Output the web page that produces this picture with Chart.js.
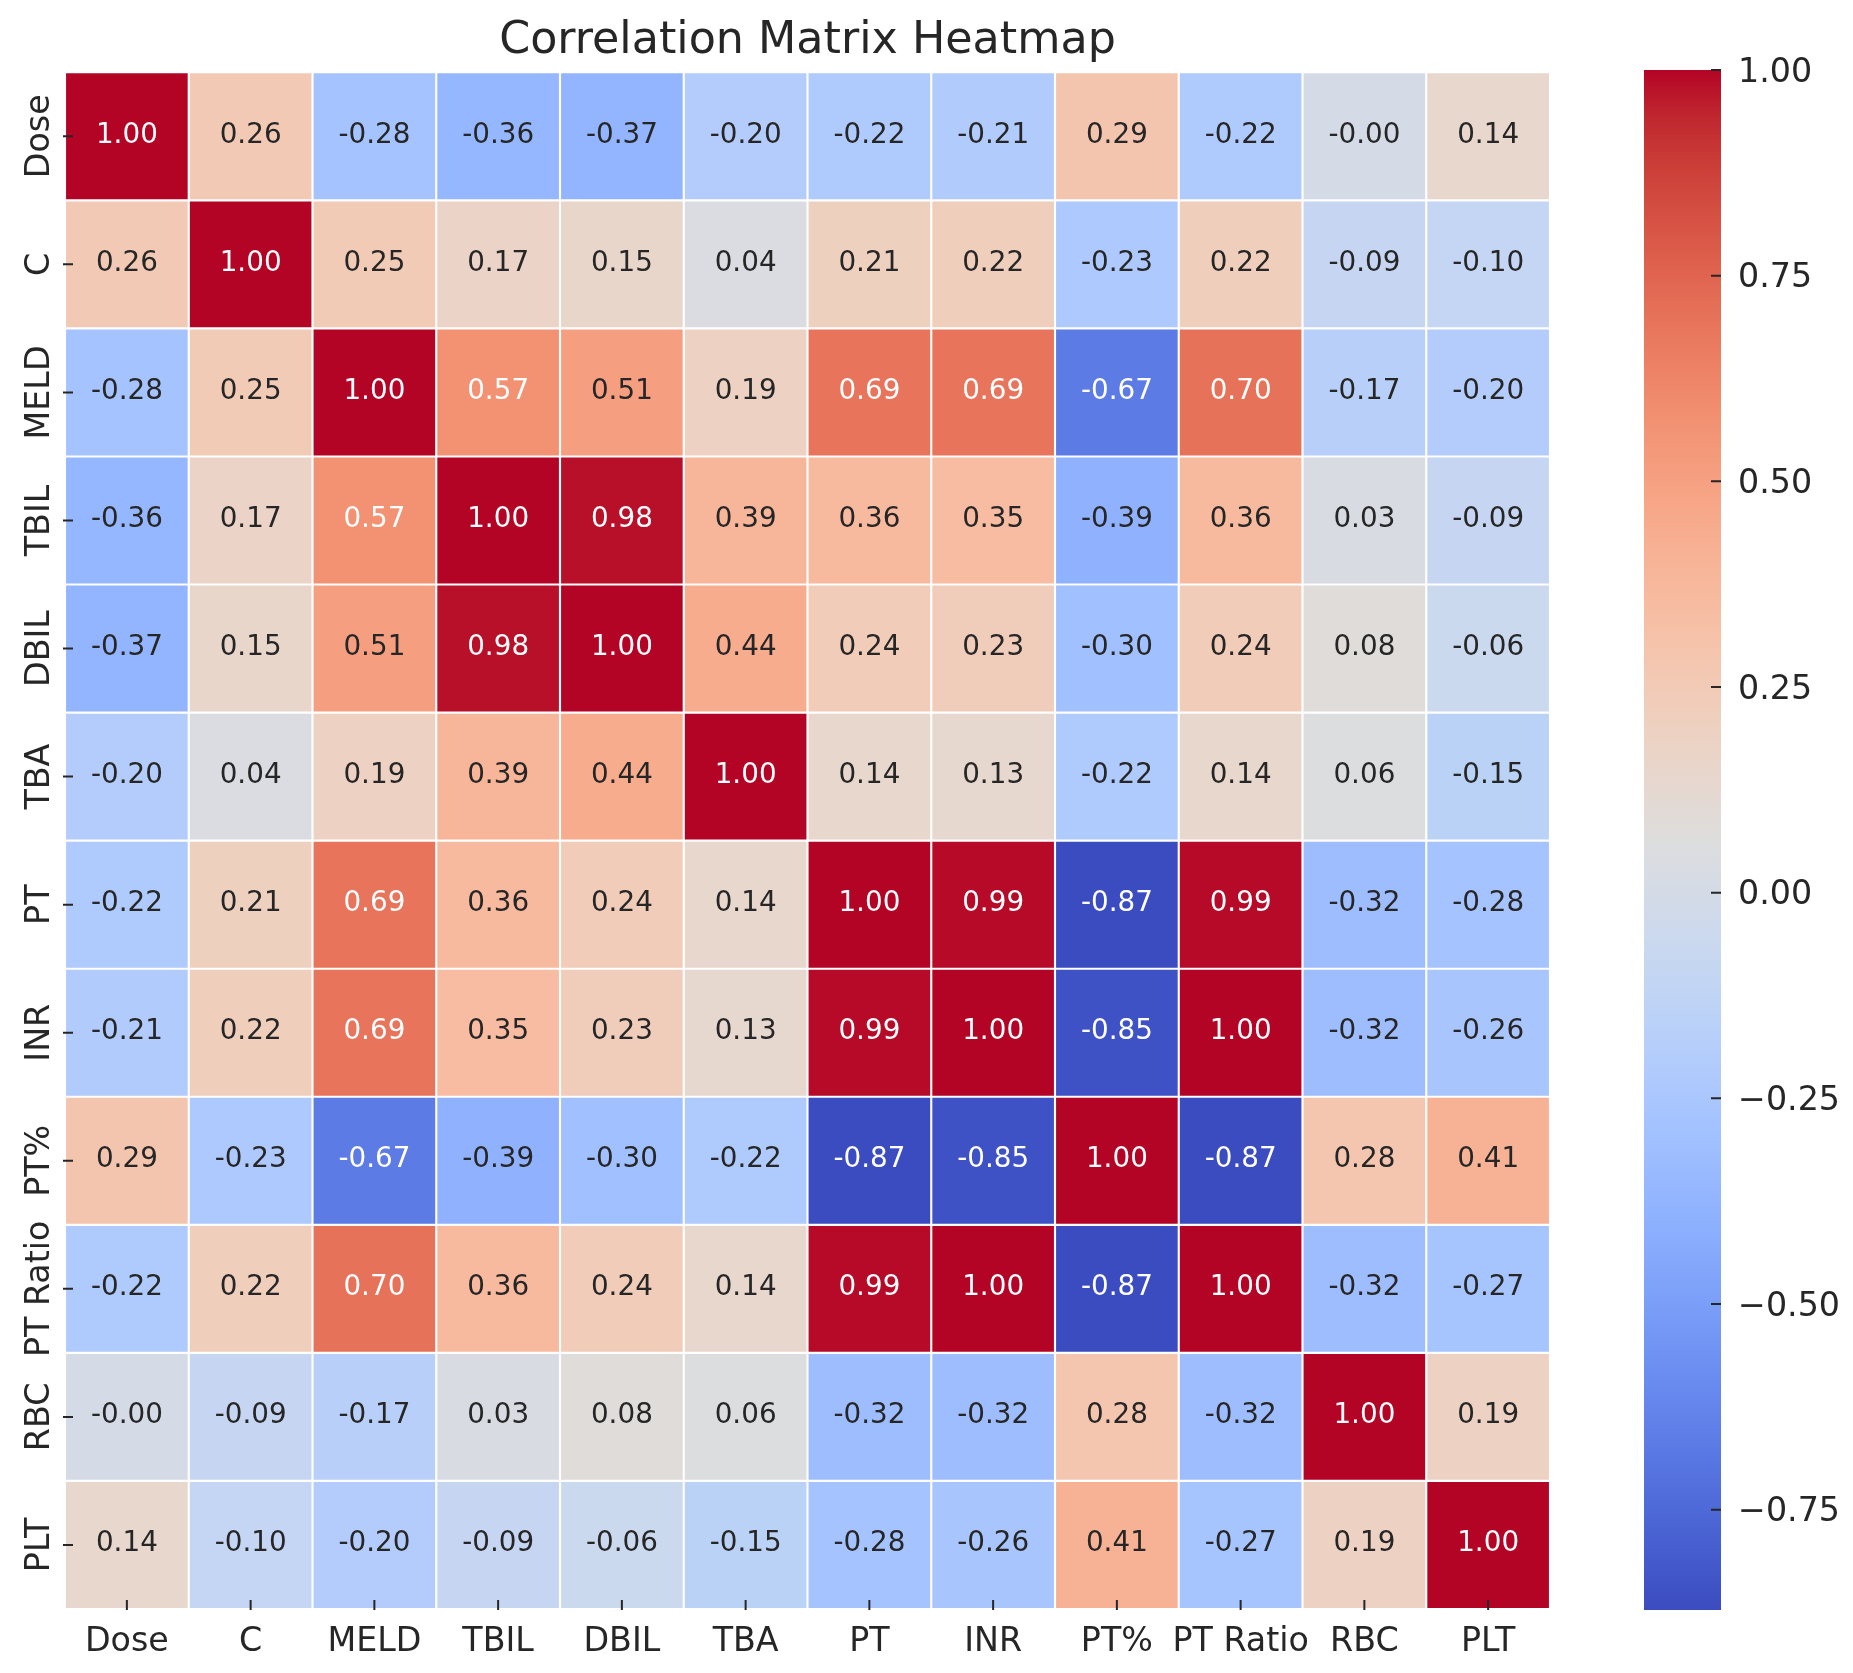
<!DOCTYPE html>
<html>
<head>
<meta charset="utf-8">
<script src="https://cdn.jsdelivr.net/npm/chart.js@4.4.1/dist/chart.umd.min.js"></script>
<style>
  html, body { margin: 0; padding: 0; background: #ffffff; }
  #wrap { position: relative; width: 1853px; height: 1673px; }
  #heatCanvas { position: absolute; left: 0; top: 0; }
  #barCanvas { position: absolute; left: 1600px; top: 0; }
</style>
</head>
<body>
<div id="wrap">
  <canvas id="heatCanvas" width="1600" height="1673"></canvas>
  <canvas id="barCanvas" width="253" height="1673"></canvas>
</div>
<script>
const labels = ["Dose", "C", "MELD", "TBIL", "DBIL", "TBA", "PT", "INR", "PT%", "PT Ratio", "RBC", "PLT"];

const dose    = [1.00, 0.26, -0.28, -0.36, -0.37, -0.20, -0.22, -0.21, 0.29, -0.22, -0.004, 0.14];
const cRow    = [0.26, 1.00, 0.25, 0.17, 0.15, 0.04, 0.21, 0.22, -0.23, 0.22, -0.09, -0.10];
const meld    = [-0.28, 0.25, 1.00, 0.57, 0.51, 0.19, 0.69, 0.69, -0.67, 0.70, -0.17, -0.20];
const tbil    = [-0.36, 0.17, 0.57, 1.00, 0.98, 0.39, 0.36, 0.35, -0.39, 0.36, 0.03, -0.09];
const dbil    = [-0.37, 0.15, 0.51, 0.98, 1.00, 0.44, 0.24, 0.23, -0.30, 0.24, 0.08, -0.06];
const tba     = [-0.20, 0.04, 0.19, 0.39, 0.44, 1.00, 0.14, 0.13, -0.22, 0.14, 0.06, -0.15];
const pt      = [-0.22, 0.21, 0.69, 0.36, 0.24, 0.14, 1.00, 0.99, -0.87, 0.99, -0.32, -0.28];
const inr     = [-0.21, 0.22, 0.69, 0.35, 0.23, 0.13, 0.99, 1.00, -0.85, 1.00, -0.32, -0.26];
const ptPct   = [0.29, -0.23, -0.67, -0.39, -0.30, -0.22, -0.87, -0.85, 1.00, -0.87, 0.28, 0.41];
const ptRatio = [-0.22, 0.22, 0.70, 0.36, 0.24, 0.14, 0.99, 1.00, -0.87, 1.00, -0.32, -0.27];
const rbc     = [-0.004, -0.09, -0.17, 0.03, 0.08, 0.06, -0.32, -0.32, 0.28, -0.32, 1.00, 0.19];
const pltRow  = [0.14, -0.10, -0.20, -0.09, -0.06, -0.15, -0.28, -0.26, 0.41, -0.27, 0.19, 1.00];

const rows = [dose, cRow, meld, tbil, dbil, tba, pt, inr, ptPct, ptRatio, rbc, pltRow];

const colorMin = -0.872;
const colorMax = 1.0;
const barTicks = [-0.75, -0.5, -0.25, 0, 0.25, 0.5, 0.75, 1.0];

const FONT = "DejaVu Sans";
const DARK = "#262626";

// coolwarm, 33 steps
const coolwarm = [
  [59,76,192],[68,90,204],[77,104,215],[87,117,225],[98,130,234],[108,142,241],
  [119,154,247],[130,165,251],[141,176,254],[152,185,255],[163,194,255],[174,201,253],
  [184,208,249],[194,213,244],[204,217,238],[213,219,230],[221,221,221],[229,216,209],
  [236,211,197],[241,204,184],[245,196,172],[247,187,160],[247,177,148],[247,166,135],
  [244,154,123],[241,141,111],[236,127,99],[229,112,88],[222,96,77],[213,80,66],
  [203,62,56],[192,40,47],[180,4,38]
];

function cmap(t) {
  t = Math.min(1, Math.max(0, t));
  const p = t * (coolwarm.length - 1);
  const i = Math.min(coolwarm.length - 2, Math.floor(p));
  const f = p - i;
  const a = coolwarm[i], b = coolwarm[i + 1];
  return [0, 1, 2].map(k => a[k] + (b[k] - a[k]) * f);
}

function colorFor(v) {
  const c = cmap((v - colorMin) / (colorMax - colorMin));
  return "rgb(" + c.map(Math.round).join(",") + ")";
}

function textColorFor(v) {
  const c = cmap((v - colorMin) / (colorMax - colorMin)).map(x => {
    x = x / 255;
    return x <= 0.03928 ? x / 12.92 : Math.pow((x + 0.055) / 1.055, 2.4);
  });
  const lum = 0.2126 * c[0] + 0.7152 * c[1] + 0.0722 * c[2];
  return lum > 0.408 ? DARK : "#ffffff";
}

const cellText = {
  id: "cellText",
  afterDatasetsDraw(chart) {
    const ctx = chart.ctx;
    const area = chart.chartArea;
    const xs = chart.scales.x, ys = chart.scales.y;
    ctx.save();
    ctx.font = "27.8px '" + FONT + "'";
    ctx.textAlign = "center";
    ctx.textBaseline = "middle";
    rows.forEach((vals, r) => {
      const meta = chart.getDatasetMeta(r);
      vals.forEach((v, c) => {
        const el = meta.data[c];
        ctx.fillStyle = textColorFor(v);
        ctx.fillText(v.toFixed(2), el.x, (el.y + el.base) / 2 - 1);
      });
    });

    // tick marks
    ctx.strokeStyle = DARK;
    ctx.lineWidth = 2;
    ctx.beginPath();
    labels.forEach((l, i) => {
      const x = xs.getPixelForValue(i);
      ctx.moveTo(x, area.bottom - 9);
      ctx.lineTo(x, area.bottom + 1);
      const y = ys.getPixelForValue(i + 0.5);
      ctx.moveTo(area.left - 2, y);
      ctx.lineTo(area.left + 8, y);
    });
    ctx.stroke();

    // rotated row labels
    ctx.fillStyle = DARK;
    ctx.font = "33.3px '" + FONT + "'";
    ctx.textBaseline = "alphabetic";
    labels.forEach((l, i) => {
      const y = ys.getPixelForValue(i + 0.5);
      ctx.save();
      ctx.translate(49, y);
      ctx.rotate(-Math.PI / 2);
      ctx.fillText(l, 0, 0);
      ctx.restore();
    });
    ctx.restore();
  }
};

new Chart(document.getElementById("heatCanvas"), {
  type: "bar",
  data: {
    labels: labels,
    datasets: rows.map((vals, r) => ({
      label: labels[r],
      data: vals.map(() => [r, r + 1]),
      backgroundColor: vals.map(colorFor),
      borderColor: "#ffffff",
      borderWidth: 1.4,
      borderSkipped: false,
      grouped: false,
      barPercentage: 1,
      categoryPercentage: 1
    }))
  },
  options: {
    responsive: false,
    animation: false,
    layout: { padding: { left: 65, right: 50, top: 0, bottom: 0 } },
    plugins: {
      legend: { display: false },
      tooltip: { enabled: false },
      title: {
        display: true,
        text: "Correlation Matrix Heatmap",
        color: DARK,
        font: { family: FONT, size: 44.4, weight: "normal" },
        padding: { top: 15, bottom: 4 }
      }
    },
    scales: {
      x: {
        type: "category",
        position: "bottom",
        grid: { display: false },
        border: { display: false },
        afterFit: s => { s.height = 64; },
        ticks: {
          autoSkip: false, maxRotation: 0, minRotation: 0, padding: 5,
          color: DARK, font: { family: FONT, size: 33.3 }
        }
      },
      y: { type: "linear", min: 0, max: 12, reverse: true, display: false }
    }
  },
  plugins: [cellText]
});

const barTickMarks = {
  id: "barTickMarks",
  afterDraw(chart) {
    const ctx = chart.ctx;
    const area = chart.chartArea;
    const ys = chart.scales.y;
    ctx.save();
    ctx.strokeStyle = DARK;
    ctx.lineWidth = 2;
    ctx.beginPath();
    barTicks.forEach(v => {
      const y = ys.getPixelForValue(v);
      ctx.moveTo(area.right - 10, y);
      ctx.lineTo(area.right, y);
    });
    ctx.stroke();
    ctx.restore();
  }
};

new Chart(document.getElementById("barCanvas"), {
  type: "bar",
  data: {
    labels: [""],
    datasets: [{
      data: [[colorMin, colorMax]],
      borderWidth: 0,
      barPercentage: 1,
      categoryPercentage: 1,
      backgroundColor: ctx => {
        const chart = ctx.chart;
        if (!chart.chartArea) return null;
        const ys = chart.scales.y;
        const g = chart.ctx.createLinearGradient(0, ys.getPixelForValue(colorMin), 0, ys.getPixelForValue(colorMax));
        coolwarm.forEach((c, i) => g.addColorStop(i / (coolwarm.length - 1), "rgb(" + c.join(",") + ")"));
        return g;
      }
    }]
  },
  options: {
    responsive: false,
    animation: false,
    layout: { padding: { left: 44, right: 0, top: 70, bottom: 63 } },
    plugins: { legend: { display: false }, tooltip: { enabled: false } },
    scales: {
      x: { display: false },
      y: {
        position: "right",
        min: colorMin,
        max: colorMax,
        afterBuildTicks: s => { s.ticks = barTicks.map(v => ({ value: v })); },
        afterFit: s => { s.width = 132; },
        grid: { display: false },
        border: { display: false },
        ticks: {
          padding: 9,
          labelOffset: 3,
          color: DARK,
          font: { family: FONT, size: 33.3 },
          callback: v => v.toFixed(2).replace("-", "\u2212")
        }
      }
    }
  },
  plugins: [barTickMarks]
});
</script>
</body>
</html>
